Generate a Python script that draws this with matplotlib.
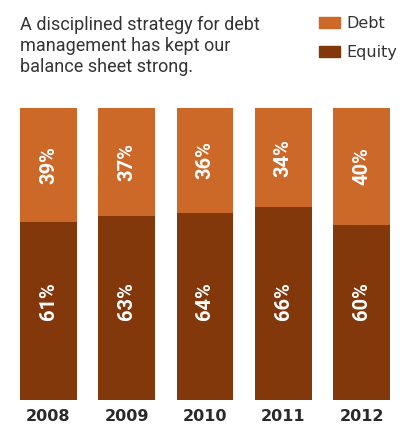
import matplotlib
matplotlib.use("Agg")
import matplotlib.pyplot as plt
from matplotlib.patches import Rectangle

# capital structure by year, in percent
years = ["2008", "2009", "2010", "2011", "2012"]
equity = [61, 63, 64, 66, 60]
debt = [39, 37, 36, 34, 40]

debt_color = "#CC6828"
equity_color = "#82380A"
text_dark = "#333333"

W, H = 402, 424
fig = plt.figure(figsize=(W / 100, H / 100), dpi=100)

# bar area: 20..390 px across, 108..400 px down
ax = fig.add_axes([20 / W, (H - 400) / H, 370 / W, 292 / H])
x = list(range(len(years)))
bw = 0.728
ax.bar(x, equity, width=bw, color=equity_color, linewidth=0)
ax.bar(x, debt, width=bw, bottom=equity, color=debt_color, linewidth=0)
ax.set_xlim(-bw / 2, len(years) - 1 + bw / 2)
ax.set_ylim(0, 100)
ax.axis("off")

lbl_font = dict(family=["Roboto", "DejaVu Sans"], fontsize=14.5,
                fontweight="bold", color="white", rotation=90,
                ha="center", va="center", rotation_mode="anchor")
for i in x:
    ax.text(i, 34, f"{equity[i]}%", **lbl_font)
    ax.text(i, equity[i] + debt[i] / 2, f"{debt[i]}%", **lbl_font)
    ax.text(i, -7.2, years[i], ha="center", va="baseline", fontsize=11.5,
            fontweight="bold", color="#2a2a2a", family="DejaVu Sans")

# heading
fig.text(20 / W, 1 - 72 / H,
         "A disciplined strategy for debt\nmanagement has kept our\nbalance sheet strong.",
         ha="left", va="baseline", fontsize=13, color=text_dark,
         family=["Roboto", "DejaVu Sans"], linespacing=1.2)

# legend swatches
for name, col, top in [("Debt", debt_color, 17), ("Equity", equity_color, 46)]:
    fig.patches.append(Rectangle((319 / W, 1 - (top + 11) / H), 21 / W, 11 / H,
                                 transform=fig.transFigure, color=col))
    fig.text(346 / W, 1 - (top + 11) / H, name, ha="left", va="baseline",
             fontsize=11.5, color=text_dark, family="DejaVu Sans")

fig.savefig("out.png", dpi=100)
